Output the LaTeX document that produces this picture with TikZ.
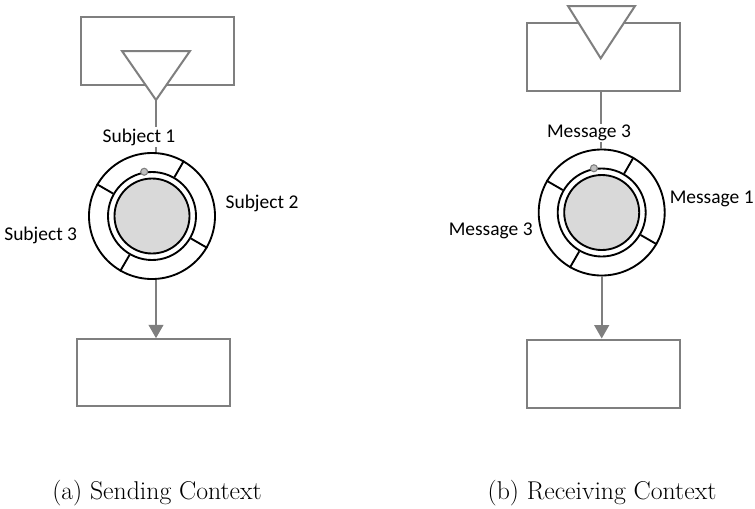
\documentclass[tikz,border=0pt]{standalone}
\usepackage{fontspec}
\newfontfamily\labelfont{Carlito}
\usetikzlibrary{arrows.meta}

\definecolor{linegray}{HTML}{7F7F7F}
\definecolor{discgray}{HTML}{D9D9D9}
\definecolor{dotgray}{HTML}{BFBFBF}

\tikzset{
  box/.style={rectangle, draw=linegray, line width=1.5pt, fill=white,
    minimum width=153*0.75pt, minimum height=68*0.75pt, inner sep=0pt},
  tri/.style={draw=linegray, line width=1.5pt, fill=white, line join=miter},
  link/.style={draw=linegray, line width=1.5pt},
  flow/.style={link, -{Triangle[length=10pt,width=11pt]}},
  ring/.style={circle, draw=black, line width=1.4pt, inner sep=0pt},
  spoke/.style={draw=black, line width=1.4pt},
  knob/.style={circle, draw=linegray, fill=dotgray, line width=0.8pt,
    minimum size=7*0.75pt, inner sep=0pt},
  lab/.style={font=\labelfont\fontsize{14.6}{17}\selectfont, fill=white, inner sep=1pt},
  subcaption/.style={font=\fontsize{19.3}{23}\selectfont, anchor=base},
}

% a context ring: outer ring split into four slots, inner disc and a marker
\newcommand\drawring[3]{%
  \node[ring, minimum size=126*0.75pt] (#1) at (#2,#3) {};
  \node[ring, minimum size=88*0.75pt] (#1mid) at (#2,#3) {};
  \node[ring, fill=discgray, minimum size=75*0.75pt] (#1core) at (#2,#3) {};
  \foreach \a in {60,150,-30,-120}
    \draw[spoke] (#1mid.\a) -- (#1.\a);
  \node[knob] (#1dot) at (#1mid.100) {};
}

\begin{document}
\begin{tikzpicture}[x=0.75pt, y=-0.75pt]
\useasboundingbox (0,0) rectangle (755,508);

% ---------- sending context ----------
\node[box] (srcA) at (157.3,51.2) {};
\coordinate (triAl) at (122,51);
\coordinate (triAr) at (190,51);
\coordinate (triAtip) at (156,100);
\draw[tri] (triAl) -- (triAr) -- (triAtip) -- cycle;

\node[box, minimum height=67*0.75pt] (sinkA) at (153.7,372.7) {};

\drawring{ringA}{152}{216}
\draw[link] (triAtip) -- (triAtip |- ringA.north);
\draw[flow] (triAtip |- ringA.south) -- (triAtip |- sinkA.north);

\node[lab] (subjA1) at (139,137) {Subject 1};
\node[lab] (subjA2) at (262,203.3) {Subject 2};
\node[lab] (subjA3) at (40.7,235) {Subject 3};

\node[subcaption] (capA) at (157,499) {(a) Sending Context};

% ---------- receiving context ----------
\node[box] (srcB) at (603.5,56.7) {};
\coordinate (triBl) at (568,6);
\coordinate (triBr) at (635,6);
\coordinate (triBtip) at (600.7,58.3);
\draw[tri] (triBl) -- (triBr) -- (triBtip) -- cycle;

\node[box] (sinkB) at (603.7,373.5) {};

\drawring{ringB}{601.7}{212.5}
\draw[link] (srcB.south -| triBtip) -- (triBtip |- ringB.north);
\draw[flow] (ringB.south) -- (ringB.south |- sinkB.north);

\node[lab] (msgB3top) at (589,133) {Message 3};
\node[lab] (msgB1) at (711.7,199.3) {Message 1};
\node[lab] (msgB3) at (490.7,231) {Message 3};

\node[subcaption] (capB) at (602,499) {(b) Receiving Context};
\end{tikzpicture}
\end{document}
